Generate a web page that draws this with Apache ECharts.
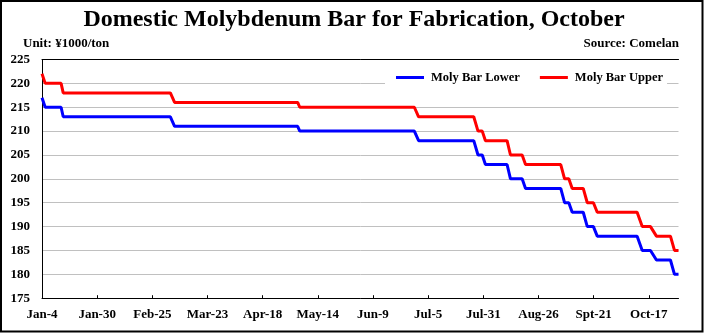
<!DOCTYPE html>
<html>
<head>
<meta charset="utf-8">
<script src="https://cdn.jsdelivr.net/npm/echarts@6/dist/echarts.min.js"></script>
<style>
html,body{margin:0;padding:0;background:#fff;}
#chart{width:708px;height:335px;}
</style>
</head>
<body>
<div id="chart"></div>
<script>
// Tick labels on the x axis (every 26 days starting Jan-4)
const xLabels = ['Jan-4','Jan-30','Feb-25','Mar-23','Apr-18','May-14','Jun-9','Jul-5','Jul-31','Aug-26','Spt-21','Oct-17'];
// Day offsets (days after Jan-4) of the breakpoints of the step lines
const dayOffsets = [0, 1.5, 9, 10, 60.5, 62.5, 120.5, 121.5, 175.5, 177.5,
  203.5, 205.5, 207.5, 209, 219.2, 220.8, 226.3, 227.9,
  244.5, 246.3, 248.3, 249.9, 255.1, 257, 259.9, 261.7,
  280.5, 282.9, 286.8, 289.6, 296.2, 298.1, 300];
const upperValues = [222, 220, 220, 218, 218, 216, 216, 215, 215, 213,
  213, 210, 210, 208, 208, 205, 205, 203,
  203, 200, 200, 198, 198, 195, 195, 193,
  193, 190, 190, 188, 188, 185, 185];
const lowerValues = [217, 215, 215, 213, 213, 211, 211, 210, 210, 208,
  208, 205, 205, 203, 203, 200, 200, 198,
  198, 195, 195, 193, 193, 190, 190, 188,
  188, 185, 185, 183, 183, 180, 180];
const seriesNames = ['Moly Bar Lower', 'Moly Bar Upper'];

const FONT = "'Liberation Serif','Times New Roman',serif";
const pairs = (xs, ys) => xs.map((x, i) => [x, ys[i]]);

const chart = echarts.init(document.getElementById('chart'), null, {renderer: 'canvas'});
chart.setOption({
  animation: false,
  backgroundColor: '#fff',
  title: [
    {text: 'Domestic Molybdenum Bar for Fabrication, October', left: 'center', top: 8, padding: 0,
     textStyle: {fontFamily: FONT, fontSize: 24, fontWeight: 'bold', color: '#000'}},
    {text: 'Unit: ¥1000/ton', left: 23, top: 37, padding: 0,
     textStyle: {fontFamily: FONT, fontSize: 13, fontWeight: 'bold', color: '#000'}},
    {text: 'Source: Comelan', right: 29, top: 37, padding: 0,
     textStyle: {fontFamily: FONT, fontSize: 13, fontWeight: 'bold', color: '#000'}}
  ],
  graphic: [{
    type: 'rect', silent: true, z: 10,
    shape: {x: 1, y: 1, width: 701.5, height: 330.5},
    style: {fill: 'none', stroke: '#000', lineWidth: 2}
  }],
  legend: {
    data: seriesNames,
    left: 385, top: 65,
    padding: [6, 4, 6, 11],
    backgroundColor: '#fff',
    icon: 'rect', itemWidth: 28, itemHeight: 3, itemGap: 20,
    textStyle: {fontFamily: FONT, fontSize: 12.5, fontWeight: 'bold', color: '#000', padding: [0, 0, 0, 2]}
  },
  grid: {left: 42, top: 59.5, width: 636.5, height: 238.7, containLabel: false},
  xAxis: [{
    type: 'value', min: 0, max: 300, interval: 26, z: 3,
    axisLine: {show: true, lineStyle: {color: '#000', width: 1}},
    axisTick: {show: true, inside: true, length: 3, lineStyle: {color: '#000'}},
    splitLine: {show: false},
    axisLabel: {
      margin: 10, color: '#000', fontFamily: FONT, fontSize: 13, fontWeight: 'bold',
      showMaxLabel: false,
      formatter: function (v) {
        const i = Math.round(v / 26);
        return (Math.abs(v - i * 26) < 1e-6 && i < xLabels.length) ? xLabels[i] : '';
      }
    }
  }, {
    type: 'value', min: 0, max: 300, position: 'top', z: 3,
    axisLine: {show: true, lineStyle: {color: '#000', width: 1}},
    axisTick: {show: false}, axisLabel: {show: false}, splitLine: {show: false}
  }],
  yAxis: [{
    type: 'value', min: 175, max: 225, interval: 5,
    axisLine: {show: true, lineStyle: {color: '#000', width: 1}},
    axisTick: {show: false},
    splitLine: {show: true, lineStyle: {color: '#c0c0c0', width: 1}},
    axisLabel: {margin: 12, color: '#000', fontFamily: FONT, fontSize: 13, fontWeight: 'bold'}
  }, {
    type: 'value', min: 175, max: 225, position: 'right', z: 3,
    axisLine: {show: true, lineStyle: {color: '#000', width: 1}},
    axisTick: {show: false}, axisLabel: {show: false}, splitLine: {show: false}
  }],
  series: [{
    name: seriesNames[0], type: 'line', data: pairs(dayOffsets, lowerValues),
    showSymbol: false, symbol: 'none', color: '#0000ff',
    lineStyle: {color: '#0000ff', width: 3}
  }, {
    name: seriesNames[1], type: 'line', data: pairs(dayOffsets, upperValues),
    showSymbol: false, symbol: 'none', color: '#ff0000',
    lineStyle: {color: '#ff0000', width: 3}
  }]
});
</script>
</body>
</html>
